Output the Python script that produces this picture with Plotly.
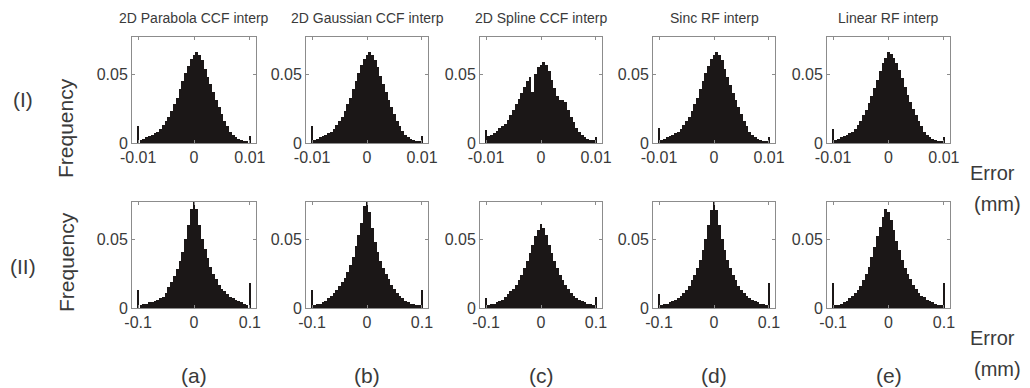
import numpy as np
import plotly.graph_objects as go

W, H = 1030, 388

titles = ["2D Parabola CCF interp", "2D Gaussian CCF interp", "2D Spline CCF interp",
          "Sinc RF interp", "Linear RF interp"]
panel_labels = ["(a)", "(b)", "(c)", "(d)", "(e)"]
row_labels = ["(I)", "(II)"]

# bin centres (row I in mm, row II in mm)
bins_I = np.round(np.arange(-0.0095, 0.00951, 0.0005), 5)
bins_II = np.round(np.arange(-0.095, 0.0951, 0.005), 4)
edges_I = [-0.01, 0.01]
edges_II = [-0.1, 0.1]

# Row I histograms (frequency per bin)
freq_I_a = [0.002, 0.003, 0.004, 0.005, 0.006, 0.007, 0.008, 0.010, 0.013, 0.016,
            0.019, 0.023, 0.028, 0.033, 0.039, 0.045, 0.051, 0.056, 0.061, 0.064,
            0.066, 0.064, 0.060, 0.054, 0.048, 0.043, 0.037, 0.031, 0.026, 0.021,
            0.016, 0.012, 0.008, 0.006, 0.004, 0.003, 0.002, 0.0015, 0.001]
freq_I_b = [0.002, 0.003, 0.004, 0.005, 0.006, 0.007, 0.008, 0.010, 0.013, 0.016,
            0.019, 0.023, 0.028, 0.033, 0.039, 0.045, 0.051, 0.057, 0.061, 0.064,
            0.066, 0.064, 0.060, 0.055, 0.049, 0.043, 0.037, 0.031, 0.026, 0.021,
            0.016, 0.012, 0.009, 0.006, 0.004, 0.003, 0.002, 0.0015, 0.001]
freq_I_c = [0.005, 0.006, 0.007, 0.009, 0.011, 0.012, 0.014, 0.017, 0.020, 0.024,
            0.028, 0.032, 0.036, 0.041, 0.045, 0.048, 0.037, 0.050, 0.055, 0.057,
            0.059, 0.057, 0.052, 0.046, 0.040, 0.034, 0.031, 0.031, 0.030, 0.024,
            0.019, 0.015, 0.011, 0.008, 0.006, 0.004, 0.003, 0.002, 0.002]
freq_I_d = [0.002, 0.003, 0.004, 0.005, 0.006, 0.007, 0.008, 0.010, 0.013, 0.016,
            0.019, 0.023, 0.028, 0.033, 0.039, 0.045, 0.051, 0.056, 0.061, 0.064,
            0.066, 0.064, 0.060, 0.054, 0.048, 0.042, 0.036, 0.031, 0.026, 0.021,
            0.016, 0.012, 0.008, 0.006, 0.004, 0.003, 0.002, 0.0015, 0.001]
freq_I_e = [0.002, 0.003, 0.004, 0.005, 0.006, 0.007, 0.008, 0.010, 0.013, 0.016,
            0.020, 0.024, 0.029, 0.034, 0.040, 0.046, 0.052, 0.058, 0.062, 0.066,
            0.065, 0.062, 0.058, 0.053, 0.047, 0.041, 0.035, 0.030, 0.025, 0.020,
            0.016, 0.012, 0.008, 0.006, 0.004, 0.003, 0.002, 0.0015, 0.001]
spikes_I = [[0.012, 0.005], [0.012, 0.005], [0.0095, 0.0045], [0.011, 0.004], [0.010, 0.004]]

# Row II histograms
freq_II_a = [0.002, 0.003, 0.003, 0.004, 0.004, 0.005, 0.006, 0.007, 0.008, 0.011,
             0.015, 0.019, 0.023, 0.028, 0.034, 0.041, 0.050, 0.060, 0.072, 0.079,
             0.072, 0.060, 0.050, 0.043, 0.036, 0.030, 0.025, 0.021, 0.017, 0.014,
             0.012, 0.010, 0.008, 0.007, 0.006, 0.005, 0.004, 0.003, 0.002]
freq_II_b = [0.002, 0.003, 0.003, 0.004, 0.005, 0.007, 0.009, 0.011, 0.013, 0.016,
             0.019, 0.022, 0.026, 0.031, 0.037, 0.045, 0.053, 0.062, 0.074, 0.080,
             0.070, 0.058, 0.048, 0.041, 0.034, 0.029, 0.025, 0.021, 0.017, 0.014,
             0.011, 0.009, 0.007, 0.005, 0.004, 0.003, 0.003, 0.002, 0.002]
freq_II_c = [0.002, 0.003, 0.003, 0.004, 0.005, 0.006, 0.008, 0.010, 0.012, 0.014,
             0.017, 0.020, 0.024, 0.029, 0.034, 0.040, 0.046, 0.052, 0.057, 0.061,
             0.058, 0.053, 0.046, 0.040, 0.034, 0.029, 0.024, 0.020, 0.017, 0.014,
             0.011, 0.009, 0.007, 0.006, 0.005, 0.004, 0.003, 0.003, 0.002]
freq_II_d = [0.002, 0.003, 0.003, 0.004, 0.005, 0.006, 0.007, 0.009, 0.011, 0.013,
             0.016, 0.020, 0.024, 0.029, 0.035, 0.042, 0.050, 0.060, 0.071, 0.078,
             0.071, 0.060, 0.050, 0.042, 0.035, 0.029, 0.024, 0.020, 0.016, 0.013,
             0.011, 0.009, 0.007, 0.006, 0.005, 0.004, 0.003, 0.003, 0.002]
freq_II_e = [0.002, 0.002, 0.003, 0.004, 0.005, 0.007, 0.009, 0.011, 0.013, 0.016,
             0.020, 0.025, 0.030, 0.037, 0.044, 0.052, 0.059, 0.066, 0.072, 0.070,
             0.064, 0.057, 0.049, 0.042, 0.035, 0.029, 0.025, 0.021, 0.017, 0.014,
             0.011, 0.009, 0.008, 0.006, 0.005, 0.004, 0.003, 0.002, 0.002]
spikes_II = [[0.013, 0.018], [0.013, 0.013], [0.007, 0.008], [0.010, 0.018], [0.018, 0.018]]

rows = [
    dict(bins=bins_I, freqs=[freq_I_a, freq_I_b, freq_I_c, freq_I_d, freq_I_e],
         spikes=spikes_I, edges=edges_I, step=0.0005, spike_w=0.00025,
         xr=[-0.0111, 0.0111], ticks=[-0.01, 0, 0.01], ticktext=["-0.01", "0", "0.01"],
         top=37, bottom=143),
    dict(bins=bins_II, freqs=[freq_II_a, freq_II_b, freq_II_c, freq_II_d, freq_II_e],
         spikes=spikes_II, edges=edges_II, step=0.005, spike_w=0.0025,
         xr=[-0.111, 0.111], ticks=[-0.1, 0, 0.1], ticktext=["-0.1", "0", "0.1"],
         top=202, bottom=308),
]
col_left = [132, 306, 480, 653, 827]
col_right = [256, 428, 602, 775, 950]

BAR = "#1b1717"
AX = "#8c8c8c"
TXT = "#3a3a3a"
FONT = "Liberation Sans, Arial, sans-serif"

fig = go.Figure()
layout = {}
k = 0
for r, row in enumerate(rows):
    for c in range(5):
        k += 1
        xa = "x" if k == 1 else f"x{k}"
        ya = "y" if k == 1 else f"y{k}"
        fig.add_trace(go.Bar(x=row["bins"], y=row["freqs"][c], width=row["step"],
                             marker=dict(color=BAR, line=dict(width=0)),
                             xaxis=xa, yaxis=ya, showlegend=False))
        fig.add_trace(go.Bar(x=row["edges"], y=row["spikes"][c], width=row["spike_w"],
                             marker=dict(color=BAR, line=dict(width=0)),
                             xaxis=xa, yaxis=ya, showlegend=False))
        layout[f"xaxis{k if k > 1 else ''}"] = dict(
            domain=[col_left[c] / W, col_right[c] / W], anchor=ya, range=row["xr"],
            tickvals=row["ticks"], ticktext=row["ticktext"], ticks="inside", ticklen=3,
            tickcolor=AX, showline=True, linecolor=AX, linewidth=1, mirror="allticks",
            showgrid=False, zeroline=False, automargin=False, ticklabelstandoff=0,
            tickfont=dict(family=FONT, size=16, color=TXT))
        layout[f"yaxis{k if k > 1 else ''}"] = dict(
            domain=[1 - row["bottom"] / H, 1 - row["top"] / H], anchor=xa, range=[0, 0.077],
            tickvals=[0, 0.05], ticktext=["0", "0.05"], ticks="inside", ticklen=3,
            tickcolor=AX, showline=True, linecolor=AX, linewidth=1, mirror="allticks",
            showgrid=False, zeroline=False, automargin=False,
            tickfont=dict(family=FONT, size=16, color=TXT))


def note(text, px, py, size, angle=0):
    return dict(text=text, x=px / W, y=1 - py / H, xref="paper", yref="paper",
                xanchor="center", yanchor="middle", showarrow=False, textangle=angle,
                font=dict(family=FONT, size=size, color=TXT))


annotations = []
for c in range(5):
    cx = (col_left[c] + col_right[c]) / 2
    annotations.append(note(titles[c], cx, 18, 14))
    annotations.append(note(panel_labels[c], cx, 375, 21))
for r, yy in enumerate([100, 266]):
    annotations.append(note(row_labels[r], 23, yy, 21))
for yy in [128, 262]:
    annotations.append(note("Frequency", 66, yy, 21, -90))
for ye, ym in [(173, 204), (338, 369)]:
    annotations.append(note("Error", 992, ye, 20))
    annotations.append(note("(mm)", 997, ym, 20))

fig.update_layout(width=W, height=H, margin=dict(l=0, r=0, t=0, b=0, autoexpand=False),
                  paper_bgcolor="white", plot_bgcolor="white",
                  barmode="overlay", bargap=0, annotations=annotations, **layout)

fig.write_html("out.html")
